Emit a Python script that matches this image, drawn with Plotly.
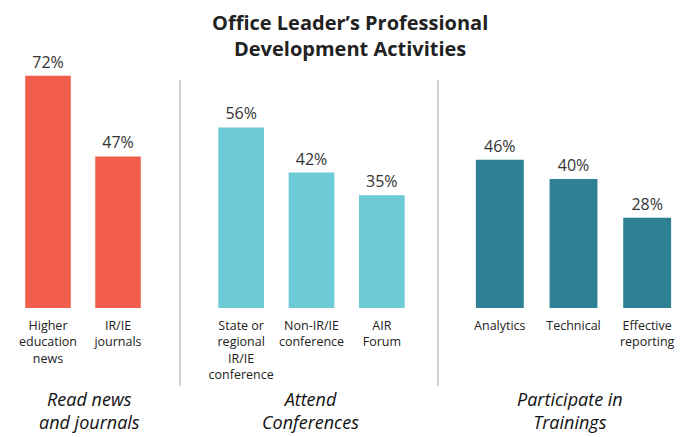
import plotly.graph_objects as go

# Data
g1_labels = ["Higher<br>education<br>news", "IR/IE<br>journals"]
g1_values = [72, 47]
g2_labels = ["State or<br>regional<br>IR/IE<br>conference", "Non-IR/IE<br>conference", "AIR<br>Forum"]
g2_values = [56, 42, 35]
g3_labels = ["Analytics", "Technical", "Effective<br>reporting"]
g3_values = [46, 40, 28]
group_titles = ["Read news<br>and journals", "Attend<br>Conferences", "Participate in<br>Trainings"]
title_text = "Office Leader’s Professional<br>Development Activities"
colors = ["#F05D4A", "#6DCBD8", "#2E8095"]

FONT = "Open Sans"
W, H = 700, 437
PT, PB = 50, 308  # plot area top/bottom in px
PH = PB - PT

def py(px):
    return (PB - px) / PH

fig = go.Figure()

groups = [(g1_labels, g1_values), (g2_labels, g2_values), (g3_labels, g3_values)]
domains_px = [(13, 153), (206, 417), (463, 684)]
axis_names = ["", "2", "3"]

for i, ((labs, vals), (d0, d1)) in enumerate(zip(groups, domains_px)):
    fig.add_trace(go.Bar(
        x=labs, y=vals,
        xaxis="x" + axis_names[i], yaxis="y",
        marker=dict(color=colors[i], line=dict(width=0)),
        width=0.65,
        text=[f"{v}%" for v in vals], textposition="outside",
        textfont=dict(family=FONT, size=16, color="#333333"),
        cliponaxis=False, hoverinfo="skip",
    ))
    ax = dict(
        domain=[d0 / W, d1 / W], anchor="y",
        type="category", showgrid=False, zeroline=False, showline=False,
        ticks="outside", ticklen=6, tickcolor="rgba(0,0,0,0)", tickangle=0,
        tickfont=dict(family=FONT, size=12.5, color="#222222"),
        fixedrange=True,
    )
    fig.layout["xaxis" + axis_names[i]] = ax

fig.update_layout(
    width=W, height=H,
    margin=dict(l=0, r=0, t=PT, b=H - PB),
    paper_bgcolor="white", plot_bgcolor="white",
    showlegend=False,
    yaxis=dict(range=[0, 80], visible=False, fixedrange=True),
)

# title
fig.add_annotation(
    text=f"<b>{title_text}</b>", xref="paper", yref="paper",
    x=0.5, y=py(7), xanchor="center", yanchor="top", showarrow=False,
    font=dict(family=FONT, size=20, color="#222222"),
)

# group labels
label_x = [89.5, 310, 570]
for t, xc in zip(group_titles, label_x):
    fig.add_annotation(
        text=f"<i>{t}</i>", xref="paper", yref="paper",
        x=xc / W, y=py(385), xanchor="center", yanchor="top",
        showarrow=False, font=dict(family=FONT, size=18, color="#111111"),
    )

# separators
for xs in [180, 438]:
    fig.add_shape(type="line", xref="paper", yref="paper",
                  x0=xs / W, x1=xs / W, y0=py(80), y1=py(386),
                  line=dict(color="#D3D3D3", width=2))

fig.write_html("out.html", config={"displayModeBar": False},
               post_script="document.body.style.margin='0';")
